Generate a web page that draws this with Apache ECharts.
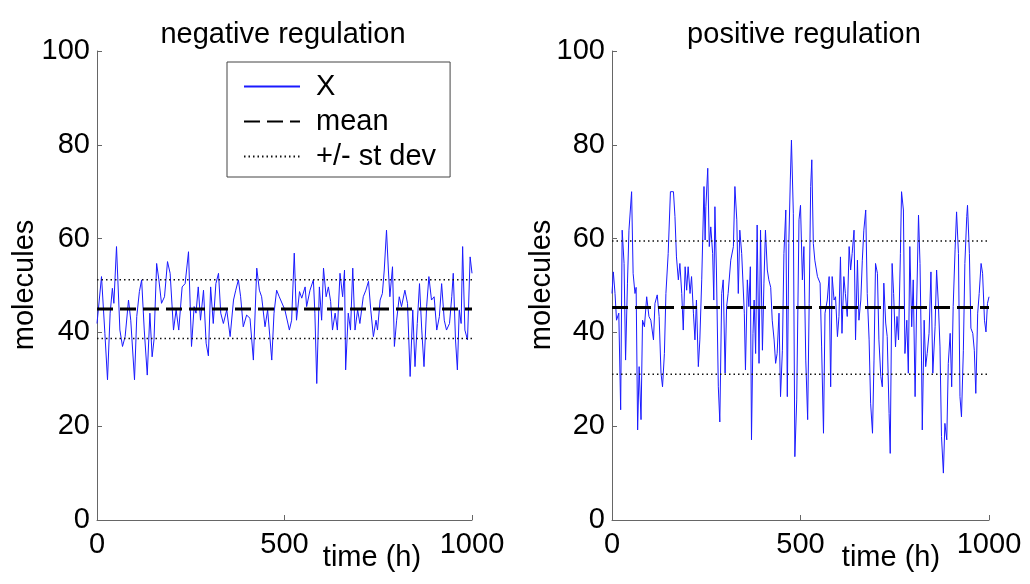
<!DOCTYPE html>
<html>
<head>
<meta charset="utf-8">
<script src="https://cdn.jsdelivr.net/npm/echarts@6/dist/echarts.min.js"></script>
<style>
html,body{margin:0;padding:0;background:#fff;}
#chart{width:1030px;height:584px;}
</style>
</head>
<body>
<div id="chart"></div>
<script>
// ---- data ----
var titles = ['negative regulation', 'positive regulation'];
var xTicks = [0, 500, 1000];
var yTicks = [0, 20, 40, 60, 80, 100];
var legendNames = ['X', 'mean', '+/- st dev'];

var negTime = [0,12,21,28,35,41,45,52,61,68,75,84,90,100,106,113,119,126,134,141,147,152,159,165,172,180,188,195,204,211,218,227,235,244,252,259,264,270,276,284,291,297,303,310,317,324,330,337,346,355,364,370,377,383,390,399,408,417,426,433,439,448,455,466,472,479,486,
  501,513,519,526,532,540,546,555,559,568,577,581,586,593,599,604,611,617,623,628,635,641,648,655,660,663,670,676,682,688,695,701,710,717,724,730,737,744,748,755,761,766,772,777,781,788,793,799,806,812,821,828,835,842,848,854,860,866,872,879,885,892,899,906,913,919,926,932,940,946,950,956,961,966,971,975,981,988,995,1000];
var negX = [41.9,51.9,39.8,29.9,44.1,49.4,46.2,58.3,40.5,37.0,39.1,46.9,42.6,29.9,43.4,48.7,51.2,40.5,30.9,44.1,34.8,38.4,54.7,51.2,46.2,47.6,55.1,52.6,40.5,44.8,40.5,49.7,50.4,57.2,37.0,45.5,44.1,49.7,42.6,49.0,37.7,35.0,49.7,41.9,50.4,52.6,44.1,41.9,44.8,39.1,46.9,49.0,51.2,47.6,41.2,43.7,43.0,34.1,53.7,49.0,47.6,41.2,44.8,34.1,44.1,49.0,47.6,
  44.8,40.5,42.6,56.9,42.6,48.7,47.3,49.7,45.5,49.0,51.2,44.1,29.1,49.7,42.6,53.7,47.6,49.7,46.6,40.5,44.1,40.5,52.6,47.6,53.3,32.0,44.1,40.5,53.7,40.5,44.8,41.9,47.6,49.0,50.9,44.8,39.1,42.6,40.5,46.9,48.3,53.3,61.8,53.3,47.6,54.0,37.0,42.6,47.6,45.5,49.0,46.2,30.6,44.8,32.7,41.9,50.4,40.5,32.7,45.5,51.9,46.9,47.6,40.5,43.4,50.4,42.6,40.5,41.9,47.6,52.6,38.4,32.0,44.8,41.9,58.3,40.5,38.4,56.1,52.6];
var negMean = 45.0, negUpper = 51.2, negLower = 38.7;

var posTime = [0,3.5,8,12,18,23,27,32,36,41,45,52,56,61,64,68,72,77,81,86,92,98,103,110,114,120,125,130,134,139,143,149,155,163,167,171,176,180,185,189,194,198,202,207,211,216,220,224,229,233,238,244,247,249,254,258,262,267,270,273,277,282,286,291,295,300,304,308,315,322,326,331,335,339,344,351,354,359,363,367,370,374,377,381,385,390,394,399,403,407,412,416,421,425,430,434,438,443,447,452,456,461,465,469,473,476,481,
  485,490,496,500,505,509,514,519,523,527,530,534,538,545,552,556,561,565,571,576,580,584,589,593,598,602,606,610,615,619,624,629,633,637,642,646,651,655,660,664,668,673,677,682,686,691,695,699,704,708,713,717,721,726,730,735,738,743,747,752,756,760,765,768,773,777,782,786,790,795,799,804,808,813,817,821,823,828,832,836,841,846,851,857,861,866,870,874,879,883,888,892,897,901,905,910,914,919,923,927,932,936,941,943,948,952,957,961,965,970,974,979,983,988,992,996,1000];
var posX = [48.3,52.9,48.3,42.6,44.1,23.5,61.8,54.7,34.1,50.5,61.8,70.0,52.6,48.3,49.6,19.2,32.7,21.4,42.6,41.2,47.6,43.4,42.6,38.4,46.2,48.0,43.4,31.3,28.4,35.5,48.3,56.8,70.0,70.0,64.7,56.1,51.2,54.7,48.3,40.5,54.0,49.0,54.0,48.3,51.9,44.1,38.4,46.9,32.7,38.4,51.2,71.1,59.7,66.8,75.0,58.3,62.5,56.8,46.9,66.8,53.3,28.4,20.9,48.3,51.2,31.3,45.5,48.3,55.4,58.3,71.1,64.0,48.3,61.8,56.8,44.1,32.0,51.2,45.5,54.0,17.1,39.8,46.9,35.5,62.9,33.4,61.8,36.2,50.5,61.8,53.3,51.2,49.6,42.6,38.4,33.4,35.5,44.1,26.3,36.2,56.8,66.1,26.3,59.0,72.5,81.0,65.4,
  13.5,25.6,64.0,67.1,51.2,58.3,34.1,21.4,46.2,71.1,76.8,59.0,55.4,51.9,50.5,36.9,18.5,44.1,46.9,51.9,28.4,51.9,46.9,47.6,39.1,43.4,56.1,39.8,51.9,48.3,43.4,58.3,53.3,56.8,61.8,38.4,55.4,42.6,46.9,55.4,61.8,66.1,48.3,38.4,24.9,18.5,34.1,54.7,52.6,38.4,30.6,28.4,50.5,42.0,39.1,22.7,14.2,54.7,48.3,36.9,43.4,38.4,56.8,70.0,66.1,35.5,42.6,31.3,58.3,41.2,51.2,26.3,45.5,65.0,54.7,34.1,19.2,42.6,32.7,35.5,39.8,52.9,31.3,41.2,53.3,45.5,36.9,17.8,10.0,20.6,17.1,33.4,39.8,28.4,45.5,57.6,65.7,56.8,26.3,22.0,36.2,54.7,64.7,67.1,56.8,40.9,39.8,36.2,27.0,44.1,48.3,54.7,52.6,42.6,40.1,46.2,47.6];
var posMean = 45.3, posUpper = 59.5, posLower = 31.1;

// ---- build ----
var FONT = 'Liberation Sans, Arial, Helvetica, sans-serif';
function pairs(t, v) { return t.map(function (x, i) { return [x, v[i]]; }); }
function flat(val) { return [[xTicks[0], val], [xTicks[xTicks.length - 1], val]]; }
function plain(v) { return String(v); }

var grids = [
  { left: 97, top: 51, width: 375, height: 469 },
  { left: 612, top: 51, width: 377, height: 469 }
];
function xAxis(i) {
  return {
    type: 'value', gridIndex: i, min: xTicks[0], max: xTicks[xTicks.length - 1], interval: 500,
    axisLine: { lineStyle: { color: '#666', width: 1 } },
    axisTick: { inside: true, length: 5, lineStyle: { color: '#666' } },
    axisLabel: { color: '#000', fontSize: 29, fontFamily: FONT, margin: 10, formatter: plain },
    splitLine: { show: false }
  };
}
function yAxis(i) {
  return {
    type: 'value', gridIndex: i, min: yTicks[0], max: yTicks[yTicks.length - 1], interval: 20,
    axisLine: { show: true, lineStyle: { color: '#666', width: 1 } },
    axisTick: { show: true, inside: true, length: 5, lineStyle: { color: '#666' } },
    axisLabel: { color: '#000', fontSize: 29, fontFamily: FONT, margin: 7, formatter: plain },
    splitLine: { show: false }
  };
}
function panelSeries(i, t, v, m, up, lo) {
  var dot = { color: '#111', width: 1.5, type: [1.5, 3] };
  return [
    { name: legendNames[0], type: 'line', xAxisIndex: i, yAxisIndex: i, data: pairs(t, v), symbol: 'none',
      lineStyle: { color: '#1a1aff', width: 1 }, itemStyle: { color: '#1a1aff' }, z: 2 },
    { name: legendNames[1], type: 'line', xAxisIndex: i, yAxisIndex: i, data: flat(m), symbol: 'none',
      lineStyle: { color: '#000', width: 3, type: [16, 7] }, itemStyle: { color: '#000' }, z: 3 },
    { name: legendNames[2], type: 'line', xAxisIndex: i, yAxisIndex: i, data: flat(up), symbol: 'none',
      lineStyle: dot, itemStyle: { color: '#111' }, z: 3 },
    { name: legendNames[2], type: 'line', xAxisIndex: i, yAxisIndex: i, data: flat(lo), symbol: 'none',
      lineStyle: dot, itemStyle: { color: '#111' }, z: 3 }
  ];
}

var chart = echarts.init(document.getElementById('chart'), null, { renderer: 'canvas' });
chart.setOption({
  backgroundColor: '#fff',
  animation: false,
  textStyle: { fontFamily: FONT },
  title: [
    { text: titles[0], left: 278, top: 15, textAlign: 'center',
      textStyle: { fontSize: 29, fontWeight: 'normal', color: '#000', fontFamily: FONT } },
    { text: titles[1], left: 799, top: 15, textAlign: 'center',
      textStyle: { fontSize: 29, fontWeight: 'normal', color: '#000', fontFamily: FONT } }
  ],
  legend: {
    data: legendNames, orient: 'vertical', left: 227, top: 62,
    padding: [10, 14, 6, 16], itemWidth: 56, itemHeight: 14, itemGap: 6,
    borderColor: '#444', borderWidth: 1, backgroundColor: '#fff',
    selectedMode: false,
    itemStyle: { opacity: 0, borderWidth: 0 },
    textStyle: { fontSize: 29, lineHeight: 29, color: '#000', fontFamily: FONT, padding: [0, 0, 0, 11] }
  },
  grid: grids,
  xAxis: [xAxis(0), xAxis(1)],
  yAxis: [yAxis(0), yAxis(1)],
  graphic: [
    { type: 'text', x: 372, y: 558, style: { text: 'time (h)', fontSize: 29, fontFamily: FONT, fill: '#000', textAlign: 'center', textVerticalAlign: 'middle' } },
    { type: 'text', x: 891, y: 558, style: { text: 'time (h)', fontSize: 29, fontFamily: FONT, fill: '#000', textAlign: 'center', textVerticalAlign: 'middle' } },
    { type: 'text', x: 25, y: 285, rotation: Math.PI / 2, style: { text: 'molecules', fontSize: 29, fontFamily: FONT, fill: '#000', textAlign: 'center', textVerticalAlign: 'middle' } },
    { type: 'text', x: 542, y: 285, rotation: Math.PI / 2, style: { text: 'molecules', fontSize: 29, fontFamily: FONT, fill: '#000', textAlign: 'center', textVerticalAlign: 'middle' } }
  ],
  series: [].concat(
    panelSeries(0, negTime, negX, negMean, negUpper, negLower),
    panelSeries(1, posTime, posX, posMean, posUpper, posLower)
  )
});
</script>
</body>
</html>
